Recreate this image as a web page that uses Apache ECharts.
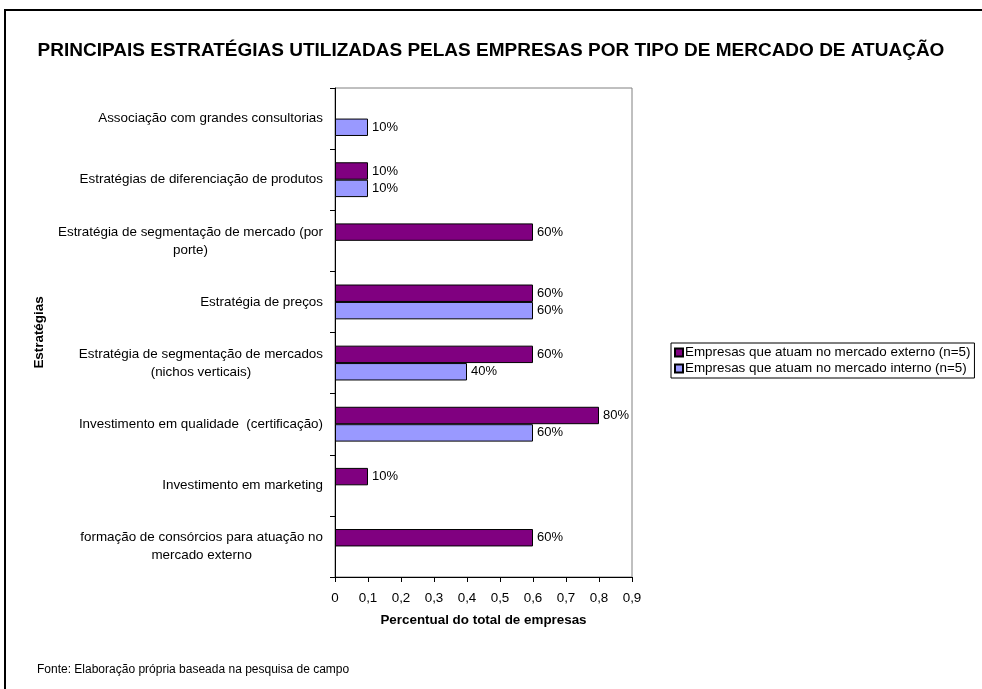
<!DOCTYPE html>
<html>
<head>
<meta charset="utf-8">
<script src="https://cdn.jsdelivr.net/npm/echarts@6/dist/echarts.min.js"></script>
<style>
  html, body { margin: 0; padding: 0; background: #fff; }
  #chart { width: 982px; height: 689px; }
</style>
</head>
<body>
<div id="chart"></div>
<script>
// Strategy categories, listed top to bottom
const categories = [
  'Associação com grandes consultorias',
  'Estratégias de diferenciação de produtos',
  'Estratégia de segmentação de mercado (por\nporte)',
  'Estratégia de preços',
  'Estratégia de segmentação de mercados\n(nichos verticais)',
  'Investimento em qualidade  (certificação)',
  'Investimento em marketing',
  'formação de consórcios para atuação no\nmercado externo'
];

// Share of firms adopting each strategy (null = not cited)
const externo = [null, 0.1, 0.6, 0.6, 0.6, 0.8, 0.1, 0.6];
const interno = [0.1, 0.1, null, 0.6, 0.4, 0.6, null, null];

const seriesNames = [
  'Empresas que atuam no mercado externo (n=5)',
  'Empresas que atuam no mercado interno (n=5)'
];

const xTicks = { min: 0, max: 0.9, step: 0.1 };

const FONT = '"Liberation Sans", Arial, sans-serif';
const FS = 13.4;

const chart = echarts.init(document.getElementById('chart'), null, { renderer: 'canvas' });

const valueLabel = {
  show: true,
  position: 'right',
  distance: 4,
  color: '#000',
  fontFamily: FONT,
  fontSize: 13,
  formatter: p => Math.round(p.value * 100) + '%'
};

chart.setOption({
  animation: false,
  backgroundColor: '#fff',
  textStyle: { fontFamily: FONT },
  title: {
    text: 'PRINCIPAIS ESTRATÉGIAS UTILIZADAS PELAS EMPRESAS POR TIPO DE MERCADO DE ATUAÇÃO',
    left: 'center',
    top: 36,
    textStyle: { fontFamily: FONT, fontSize: 19, fontWeight: 'bold', color: '#000' }
  },
  legend: {
    orient: 'vertical',
    left: 671,
    top: 343,
    data: seriesNames,
    icon: 'rect',
    itemWidth: 8,
    itemHeight: 8,
    itemGap: 3,
    padding: [3, 4, 3, 3],
    borderColor: '#000',
    borderWidth: 1,
    textStyle: { fontFamily: FONT, fontSize: FS, color: '#000', padding: [0, 0, 0, -3] }
  },
  graphic: [
    {
      type: 'rect',
      shape: { x: 5, y: 10, width: 1000, height: 700 },
      style: { fill: 'none', stroke: '#000', lineWidth: 2 },
      silent: true
    },
    {
      type: 'text',
      left: 37,
      top: 664,
      style: {
        text: 'Fonte: Elaboração própria baseada na pesquisa de campo',
        fontFamily: FONT,
        fontSize: 12,
        fill: '#000'
      }
    }
  ],
  grid: {
    left: 335,
    right: 350,
    top: 88,
    bottom: 112,
    show: true,
    borderColor: '#808080',
    borderWidth: 1,
    backgroundColor: '#fff'
  },
  xAxis: {
    type: 'value',
    min: xTicks.min,
    max: xTicks.max,
    interval: xTicks.step,
    name: 'Percentual do total de empresas',
    nameLocation: 'middle',
    nameGap: 37,
    nameTextStyle: { fontFamily: FONT, fontSize: FS, fontWeight: 'bold', color: '#000' },
    axisLine: { show: true, lineStyle: { color: '#000', width: 1 } },
    axisTick: { show: true, length: 5, lineStyle: { color: '#000' } },
    axisLabel: {
      fontFamily: FONT,
      fontSize: FS,
      color: '#000',
      margin: 15,
      formatter: v => (v === 0 ? '0' : v.toFixed(1).replace('.', ','))
    },
    splitLine: { show: false }
  },
  yAxis: {
    type: 'category',
    data: categories,
    inverse: true,
    name: 'Estratégias',
    nameLocation: 'middle',
    nameRotate: 90,
    nameGap: 289,
    nameTextStyle: { fontFamily: FONT, fontSize: FS, fontWeight: 'bold', color: '#000' },
    axisLine: { show: true, lineStyle: { color: '#000', width: 1 } },
    axisTick: { show: true, length: 5, lineStyle: { color: '#000' } },
    axisLabel: {
      fontFamily: FONT,
      fontSize: FS,
      color: '#000',
      margin: 12,
      lineHeight: 18,
      formatter: v => v.split('\n').map(l => '{c|' + l + '}').join('\n'),
      rich: { c: { align: 'center', fontFamily: FONT, fontSize: FS, color: '#000', lineHeight: 18 } }
    },
    splitLine: { show: false }
  },
  series: [
    {
      name: seriesNames[0],
      type: 'bar',
      data: externo,
      barGap: '0%',
      barCategoryGap: '43%',
      itemStyle: { color: '#800080', borderColor: '#000', borderWidth: 1 },
      label: valueLabel
    },
    {
      name: seriesNames[1],
      type: 'bar',
      data: interno,
      itemStyle: { color: '#9999FF', borderColor: '#000', borderWidth: 1 },
      label: valueLabel
    }
  ]
});
</script>
</body>
</html>
